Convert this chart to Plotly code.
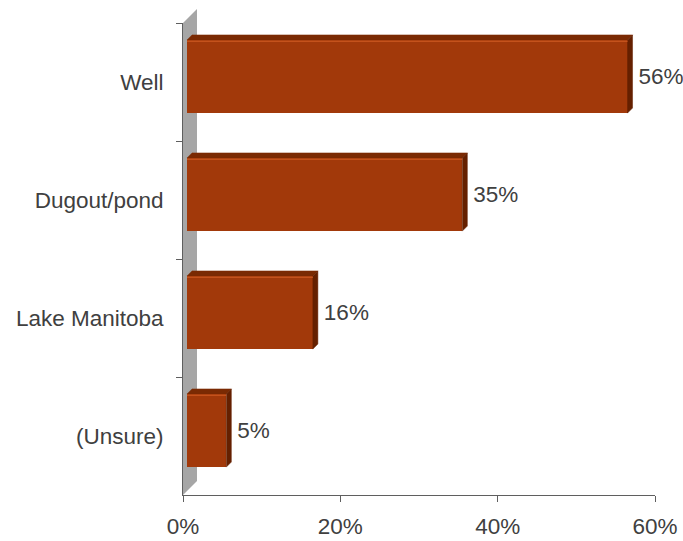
import plotly.graph_objects as go

# Source of water
categories = ["Well", "Dugout/pond", "Lake Manitoba", "(Unsure)"]
values = [56, 35, 16, 5]
x_ticks = [0, 20, 40, 60]
x_tick_labels = ["0%", "20%", "40%", "60%"]

# canvas / plot-area geometry (pixels)
W, H = 683, 541
ML, MR, MT, MB = 183, 28, 23, 46
plot_w = W - ML - MR
plot_h = H - MT - MB
x_max = 60
px_per_x = plot_w / x_max
px_per_cat = plot_h / len(categories)

# 3D look: bars sit a little into the depth, and have a thin top/side face
bar_shift_x, bar_shift_y = 4, 5.5      # px offset of the bars' front plane
depth_px = 5                           # px depth of each bar
wall_px = 14                           # px depth of the back wall
label_gap_px = 6                       # gap between bar and its value label
bar_w = 0.62

front = "#A2390A"
top_c = "#7A2A03"
side_c = "#652000"
hilite = "#C4521C"
text_c = "#404040"
font_fam = "Liberation Sans, Arial, sans-serif"
fsize = 22.5

ox = bar_shift_x / px_per_x
oy = bar_shift_y / px_per_cat
ddx = depth_px / px_per_x
ddy = depth_px / px_per_cat

idx = list(range(len(categories)))

fig = go.Figure()

# front faces of the bars
fig.add_trace(go.Bar(
    x=values, y=idx, orientation="h", width=bar_w,
    marker=dict(color=front, line=dict(width=0)),
    xaxis="x2", yaxis="y2", hoverinfo="skip", showlegend=False,
))

# top and right-hand faces
tx, ty, sx, sy, hx, hy = [], [], [], [], [], []
for i, v in zip(idx, values):
    yt = i - bar_w / 2
    yb = i + bar_w / 2
    tx += [0, v, v + ddx, ddx, 0, None]
    ty += [yt, yt, yt - ddy, yt - ddy, yt, None]
    sx += [v, v + ddx, v + ddx, v, v, None]
    sy += [yt, yt - ddy, yb - ddy, yb, yt, None]
    hx += [0, v, None]
    hy += [yt + 0.012, yt + 0.012, None]

fig.add_trace(go.Scatter(
    x=tx, y=ty, mode="lines", fill="toself", fillcolor=top_c,
    line=dict(width=0.5, color=top_c), xaxis="x2", yaxis="y2",
    hoverinfo="skip", showlegend=False,
))
fig.add_trace(go.Scatter(
    x=sx, y=sy, mode="lines", fill="toself", fillcolor=side_c,
    line=dict(width=0.5, color=side_c), xaxis="x2", yaxis="y2",
    hoverinfo="skip", showlegend=False,
))
fig.add_trace(go.Scatter(
    x=hx, y=hy, mode="lines", line=dict(width=1.5, color=hilite),
    xaxis="x2", yaxis="y2", hoverinfo="skip", showlegend=False,
))

# value labels
fig.add_trace(go.Scatter(
    x=[v + ddx + label_gap_px / px_per_x for v in values],
    y=[i + 2 / px_per_cat for i in idx], mode="text",
    text=[f"{v}%" for v in values], textposition="middle right",
    textfont=dict(size=fsize, color=text_c, family=font_fam),
    cliponaxis=False,
    xaxis="x2", yaxis="y2", hoverinfo="skip", showlegend=False,
))

# gray back wall behind the category axis
wd = wall_px / plot_w
hd = wall_px / plot_h
fig.add_shape(
    type="path", xref="paper", yref="paper", layer="below",
    path=f"M 0 0 L {wd} {hd} L {wd} {1 + hd} L 0 1 Z",
    fillcolor="#A6A6A6", line=dict(width=0),
)

axis_line = "#5f5f5f"
fig.update_layout(
    width=W, height=H, autosize=False,
    margin=dict(l=ML, r=MR, t=MT, b=MB, pad=0, autoexpand=False),
    paper_bgcolor="white", plot_bgcolor="rgba(0,0,0,0)",
    font=dict(family=font_fam, size=fsize, color=text_c),
    bargap=0,
    xaxis=dict(
        range=[0, x_max], tickvals=x_ticks, ticktext=x_tick_labels,
        showgrid=False, zeroline=False, showline=True, linecolor=axis_line,
        linewidth=1, ticks="outside", ticklen=6, tickcolor=axis_line,
        tickfont=dict(size=fsize, color=text_c), ticklabelstandoff=5,
        automargin=False,
    ),
    yaxis=dict(
        type="category", categoryorder="array", categoryarray=categories,
        range=[len(categories) - 0.5, -0.5],
        showgrid=False, zeroline=False, showline=True, linecolor=axis_line,
        linewidth=1, ticks="outside", ticklen=6, tickcolor=axis_line,
        tickson="boundaries", tickfont=dict(size=fsize, color=text_c),
        ticklabelstandoff=14, automargin=False,
    ),
    xaxis2=dict(
        overlaying="x", range=[-ox, x_max - ox], visible=False,
    ),
    yaxis2=dict(
        overlaying="y", range=[len(categories) - 0.5 + oy, -0.5 + oy],
        visible=False,
    ),
)

# categorical y values for the main axis so the tick labels appear
fig.add_trace(go.Scatter(
    x=[None] * len(categories), y=categories, mode="markers",
    hoverinfo="skip", showlegend=False,
))

fig.write_html("out.html")
